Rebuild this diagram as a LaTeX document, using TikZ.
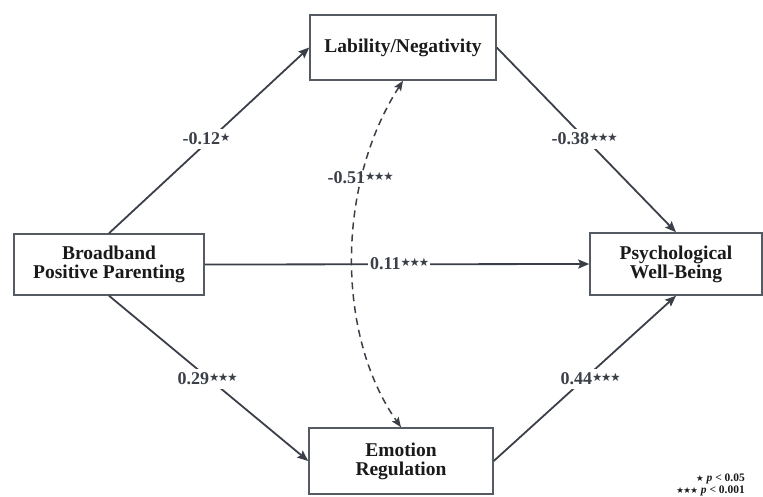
\documentclass[tikz,border=0pt]{standalone}
\usepackage{fontspec}
\setmainfont{Liberation Serif}
\newfontfamily\dejavu{DejaVu Sans}
\usetikzlibrary{arrows.meta}
\definecolor{linec}{HTML}{3B3F48}
\definecolor{boxc}{HTML}{555A63}
\definecolor{txtc}{HTML}{1A1A1A}
\newcommand{\sg}{\raisebox{0.35ex}{\fontsize{11.5}{11.5}\dejavu ★}\kern-1.2pt}
\begin{document}
\begin{tikzpicture}[x=1pt,y=-1pt,
  varbox/.style={draw=boxc,line width=1.5pt,fill=white,align=center,text=txtc,
    font=\fontsize{19.5}{19}\selectfont\bfseries,inner sep=0pt},
  path/.style={draw=linec,line width=1.8pt,-{Stealth[length=11pt,width=9pt,inset=2pt]}},
  coef/.style={text=linec,font=\fontsize{18}{18}\selectfont\bfseries,inner sep=2pt},
  coefw/.style={coef,fill=white,inner ysep=4pt}]
\useasboundingbox (0,0) rectangle (763,496);
\node[varbox,minimum width=186pt,minimum height=65pt] (lab) at (403,47.5) {Lability/Negativity};
\node[varbox,minimum width=190pt,minimum height=61pt] (bb) at (109,264.5) {Broadband\\Positive Parenting};
\node[varbox,minimum width=172pt,minimum height=62pt] (psy) at (676,264) {Psychological\\Well-Being};
\node[varbox,minimum width=184pt,minimum height=66pt] (emo) at (401,461) {Emotion\\Regulation};

\draw[path] (bb.north) -- (lab.west);
\draw[path] (lab.east) -- (psy.north);
\draw[path] (bb.south) -- (emo.west);
\draw[path] (emo.east) -- (psy.south);
\draw[path] (bb.east) -- (psy.west);
\node[coefw,inner ysep=2pt] (c11) at (399,264) {0.11\sg\sg\sg};
\node[coefw] (c12) at (206,139) {-0.12\sg};
\node[coefw] (c38) at (584,139) {-0.38\sg\sg\sg};
\node[coefw] (c29) at (207,379) {0.29\sg\sg\sg};
\node[coefw] (c44) at (590,379) {0.44\sg\sg\sg};

\draw[draw=linec,line width=1.5pt,dash pattern=on 7pt off 5pt,
  {Stealth[length=10pt,width=8pt,inset=2pt]}-{Stealth[length=10pt,width=8pt,inset=2pt]}]
  (lab.south) .. controls (336,185) and (336,335) .. (emo.north);
\node[coef] (c51) at (360,178) {-0.51\sg\sg\sg};

\node[anchor=east,text=txtc,font=\fontsize{11.5}{12.5}\selectfont\bfseries,align=right,inner sep=0pt] (leg) at (745,485)
  {{\fontsize{8.5}{8.5}\dejavu ★} \textit{p} < 0.05\\{\fontsize{8.5}{8.5}\dejavu ★\kern-0.6pt★\kern-0.6pt★} \textit{p} < 0.001};
\end{tikzpicture}
\end{document}
